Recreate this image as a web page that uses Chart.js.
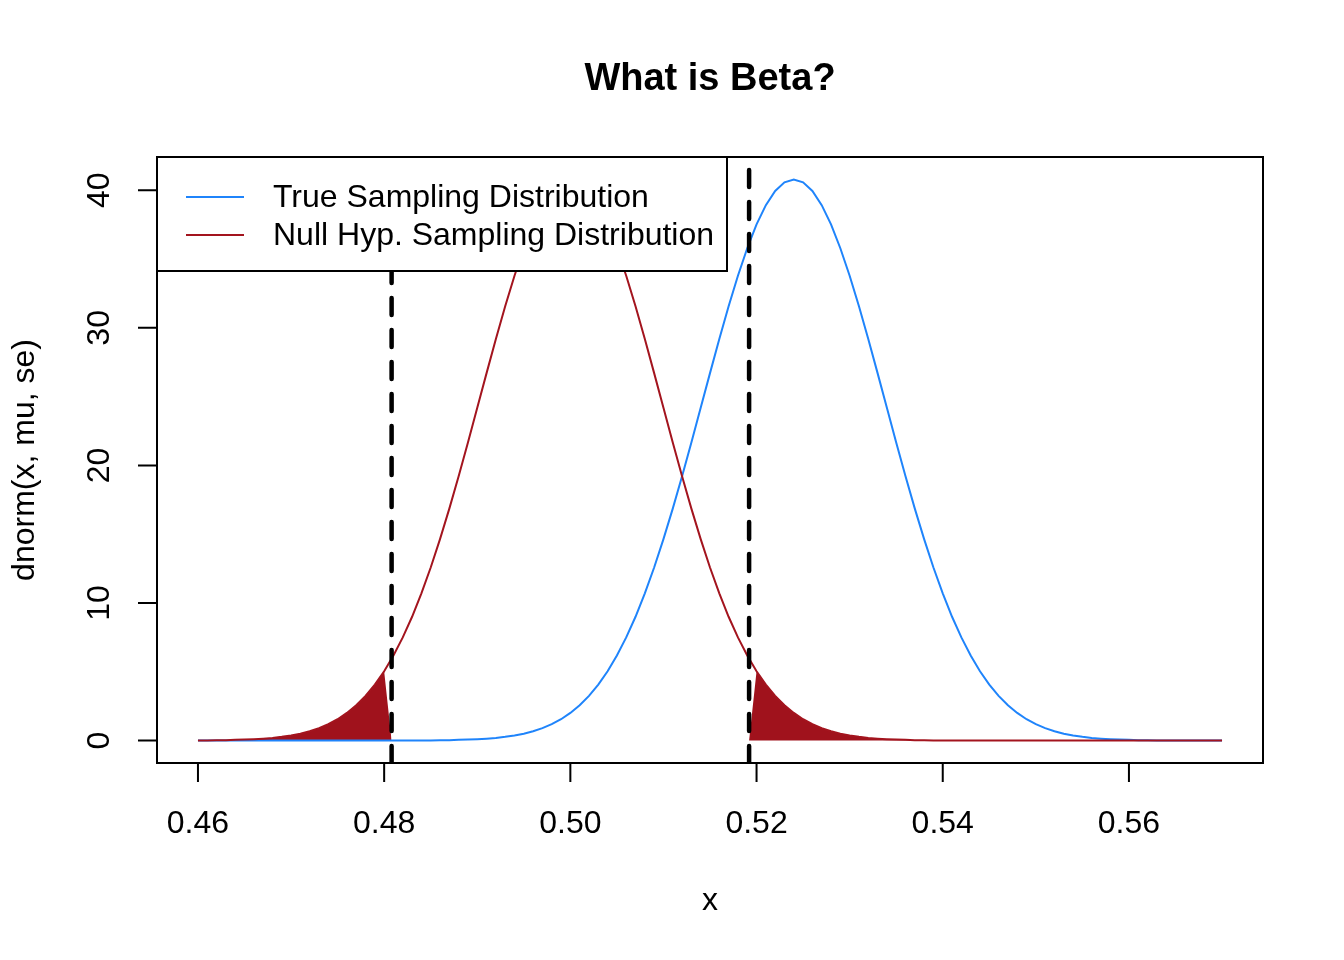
<!DOCTYPE html>
<html lang="en">
<head>
    <meta charset="UTF-8">
    <title>What is Beta?</title>
    <script src="https://cdn.jsdelivr.net/npm/chart.js"></script>
    <style>
        body {
            margin: 0;
            background-color: #ffffff;
        }
        canvas {
            display: block;
        }
    </style>
</head>
<body>

    <canvas id="betaChart" width="1344" height="960"></canvas>

    <script>
        // ** Data **
        let xs = [
            0.460, 0.461, 0.462, 0.463, 0.464, 0.465, 0.466, 0.467, 0.468, 0.469,
            0.470, 0.471, 0.472, 0.473, 0.474, 0.475, 0.476, 0.477, 0.478, 0.479,
            0.480, 0.481, 0.482, 0.483, 0.484, 0.485, 0.486, 0.487, 0.488, 0.489,
            0.490, 0.491, 0.492, 0.493, 0.494, 0.495, 0.496, 0.497, 0.498, 0.499,
            0.500, 0.501, 0.502, 0.503, 0.504, 0.505, 0.506, 0.507, 0.508, 0.509,
            0.510, 0.511, 0.512, 0.513, 0.514, 0.515, 0.516, 0.517, 0.518, 0.519,
            0.520, 0.521, 0.522, 0.523, 0.524, 0.525, 0.526, 0.527, 0.528, 0.529,
            0.530, 0.531, 0.532, 0.533, 0.534, 0.535, 0.536, 0.537, 0.538, 0.539,
            0.540, 0.541, 0.542, 0.543, 0.544, 0.545, 0.546, 0.547, 0.548, 0.549,
            0.550, 0.551, 0.552, 0.553, 0.554, 0.555, 0.556, 0.557, 0.558, 0.559,
            0.560, 0.561, 0.562, 0.563, 0.564, 0.565, 0.566, 0.567, 0.568, 0.569,
            0.570
        ];

        // null hypothesis curve (red), centred on 0.50
        let nullDensity = [
            0.01, 0.01, 0.02, 0.03, 0.05, 0.07, 0.10, 0.14, 0.19, 0.27,
            0.37, 0.50, 0.68, 0.90, 1.19, 1.55, 2.01, 2.57, 3.25, 4.07,
            5.04, 6.18, 7.50, 9.00, 10.70, 12.58, 14.64, 16.86, 19.22, 21.67,
            24.19, 26.71, 29.19, 31.57, 33.79, 35.79, 37.52, 38.92, 39.95, 40.58,
            40.79, 40.58, 39.95, 38.92, 37.52, 35.79, 33.79, 31.57, 29.19, 26.71,
            24.19, 21.67, 19.22, 16.86, 14.64, 12.58, 10.70, 9.00, 7.50, 6.18,
            5.04, 4.07, 3.25, 2.57, 2.01, 1.55, 1.19, 0.90, 0.68, 0.50,
            0.37, 0.27, 0.19, 0.14, 0.10, 0.07, 0.05, 0.03, 0.02, 0.01,
            0.01, 0.01, 0, 0, 0, 0, 0, 0, 0, 0,
            0, 0, 0, 0, 0, 0, 0, 0, 0, 0,
            0, 0, 0, 0, 0, 0, 0, 0, 0, 0,
            0
        ];

        // true sampling distribution (blue), centred on 0.524
        let trueDensity = [
            0, 0, 0, 0, 0, 0, 0, 0, 0, 0,
            0, 0, 0, 0, 0, 0, 0, 0, 0, 0,
            0, 0, 0, 0.01, 0.01, 0.01, 0.02, 0.03, 0.05, 0.07,
            0.10, 0.14, 0.19, 0.27, 0.37, 0.50, 0.68, 0.90, 1.19, 1.55,
            2.01, 2.57, 3.25, 4.07, 5.04, 6.18, 7.50, 9.00, 10.70, 12.58,
            14.64, 16.86, 19.22, 21.67, 24.19, 26.71, 29.19, 31.57, 33.79, 35.79,
            37.52, 38.92, 39.95, 40.58, 40.79, 40.58, 39.95, 38.92, 37.52, 35.79,
            33.79, 31.57, 29.19, 26.71, 24.19, 21.67, 19.22, 16.86, 14.64, 12.58,
            10.70, 9.00, 7.50, 6.18, 5.04, 4.07, 3.25, 2.57, 2.01, 1.55,
            1.19, 0.90, 0.68, 0.50, 0.37, 0.27, 0.19, 0.14, 0.10, 0.07,
            0.05, 0.03, 0.02, 0.01, 0.01, 0.01, 0, 0, 0, 0,
            0
        ];

        let critValues = [0.4808, 0.5192];   // dashed lines
        let xTicks = [0.46, 0.48, 0.50, 0.52, 0.54, 0.56];
        let yTicks = [0, 10, 20, 30, 40];
        let legendLabels = ["True Sampling Distribution", "Null Hyp. Sampling Distribution"];
        let colors = ["#1f84fb", "#a3141e"];
        let fillColor = "#a0121c";

        // R style axis range: data range plus 4% each side
        let xLo = xs[0], xHi = xs[xs.length - 1];
        let yHi = Math.max(...trueDensity, ...nullDensity);
        let xPad = (xHi - xLo) * 0.04, yPad = yHi * 0.04;
        let xMin = xLo - xPad, xMax = xHi + xPad;
        let yMin = -yPad, yMax = yHi + yPad;

        let pts = ys => xs.map((x, i) => ({ x: x, y: ys[i] }));
        let nullPts = pts(nullDensity);

        // shaded tails of the null curve
        let leftTail = nullPts.filter(p => p.x <= critValues[0]).concat([{ x: critValues[0], y: 0 }]);
        let rightTail = [{ x: critValues[1], y: 0 }].concat(nullPts.filter(p => p.x >= critValues[1]));

        let font = '"Liberation Sans", Arial, Helvetica, sans-serif';

        // draws the R look: box, ticks, labels, title, legend
        let rFrame = {
            id: "rFrame",
            afterDraw(chart) {
                let ctx = chart.ctx;
                let a = chart.chartArea;
                let sx = chart.scales.x, sy = chart.scales.y;
                ctx.save();
                ctx.strokeStyle = "#000";
                ctx.fillStyle = "#000";
                ctx.lineWidth = 2;

                // x axis
                ctx.beginPath();
                ctx.moveTo(sx.getPixelForValue(xTicks[0]), a.bottom);
                ctx.lineTo(sx.getPixelForValue(xTicks[xTicks.length - 1]), a.bottom);
                xTicks.forEach(t => {
                    let px = sx.getPixelForValue(t);
                    ctx.moveTo(px, a.bottom);
                    ctx.lineTo(px, a.bottom + 19);
                });
                // y axis
                ctx.moveTo(a.left, sy.getPixelForValue(yTicks[0]));
                ctx.lineTo(a.left, sy.getPixelForValue(yTicks[yTicks.length - 1]));
                yTicks.forEach(t => {
                    let py = sy.getPixelForValue(t);
                    ctx.moveTo(a.left, py);
                    ctx.lineTo(a.left - 19, py);
                });
                ctx.stroke();

                ctx.font = "32px " + font;
                ctx.textAlign = "center";
                ctx.textBaseline = "middle";
                xTicks.forEach(t => ctx.fillText(t.toFixed(2), sx.getPixelForValue(t), 824));
                yTicks.forEach(t => {
                    ctx.save();
                    ctx.translate(100, sy.getPixelForValue(t));
                    ctx.rotate(-Math.PI / 2);
                    ctx.fillText(String(t), 0, 0);
                    ctx.restore();
                });

                // axis titles
                ctx.fillText("x", (a.left + a.right) / 2, 901);
                ctx.save();
                ctx.translate(25, (a.top + a.bottom) / 2);
                ctx.rotate(-Math.PI / 2);
                ctx.fillText("dnorm(x, mu, se)", 0, 0);
                ctx.restore();

                // title
                ctx.font = "bold 38px " + font;
                ctx.fillText("What is Beta?", (a.left + a.right) / 2, 80);

                // legend
                ctx.fillStyle = "#fff";
                ctx.fillRect(a.left, a.top, 570, 114);
                ctx.strokeRect(a.left, a.top, 570, 114);
                ctx.font = "32px " + font;
                ctx.textAlign = "left";
                legendLabels.forEach((lab, i) => {
                    let y = a.top + 40 + i * 38;
                    ctx.strokeStyle = colors[i];
                    ctx.beginPath();
                    ctx.moveTo(a.left + 29, y);
                    ctx.lineTo(a.left + 87, y);
                    ctx.stroke();
                    ctx.fillStyle = "#000";
                    ctx.fillText(lab, a.left + 116, y + 1);
                });

                // plot box
                ctx.strokeStyle = "#000";
                ctx.strokeRect(a.left, a.top, a.right - a.left, a.bottom - a.top);
                ctx.restore();
            }
        };

        let ctx = document.getElementById("betaChart").getContext("2d");
        new Chart(ctx, {
            type: "line",
            data: {
                datasets: [
                    {
                        data: [{ x: critValues[0], y: yMin }, { x: critValues[0], y: yMax }],
                        borderColor: "#000", borderWidth: 4.5, borderDash: [17, 15],
                        borderCapStyle: "round", order: 0
                    },
                    {
                        data: [{ x: critValues[1], y: yMin }, { x: critValues[1], y: yMax }],
                        borderColor: "#000", borderWidth: 4.5, borderDash: [17, 15],
                        borderCapStyle: "round", order: 0
                    },
                    { data: nullPts, borderColor: colors[1], borderWidth: 2, order: 1 },
                    { data: pts(trueDensity), borderColor: colors[0], borderWidth: 2, order: 2 },
                    { data: leftTail, borderWidth: 0, backgroundColor: fillColor, fill: "origin", order: 3 },
                    { data: rightTail, borderWidth: 0, backgroundColor: fillColor, fill: "origin", order: 3 }
                ]
            },
            options: {
                responsive: false,
                animation: false,
                layout: { padding: { left: 157, right: 81, top: 157, bottom: 197 } },
                elements: { point: { radius: 0 }, line: { tension: 0 } },
                plugins: {
                    legend: { display: false },
                    title: { display: false },
                    tooltip: { enabled: false }
                },
                scales: {
                    x: { type: "linear", min: xMin, max: xMax, display: false },
                    y: { type: "linear", min: yMin, max: yMax, display: false }
                }
            },
            plugins: [rFrame]
        });
    </script>

</body>
</html>
